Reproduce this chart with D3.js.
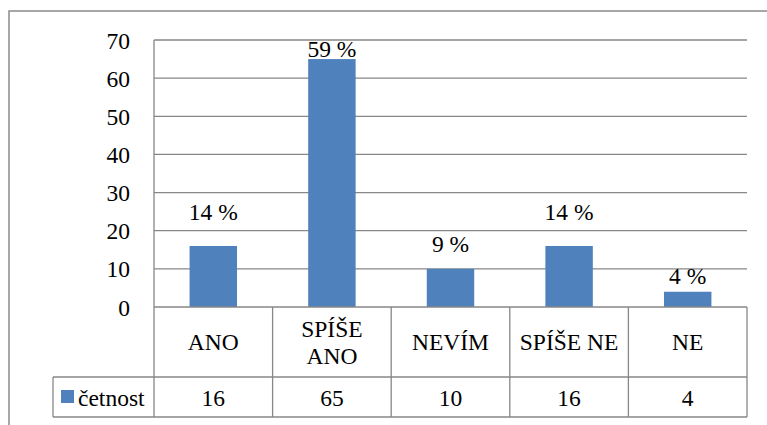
<!DOCTYPE html>
<html>
<head>
<meta charset="utf-8">
<script src="https://cdn.jsdelivr.net/npm/d3@7"></script>
<style>
  html, body { margin: 0; padding: 0; background: #fff; }
  svg { display: block; }
</style>
</head>
<body>
<svg id="chart" width="767" height="425"></svg>
<script>
// Survey answers and their counts
const categories = ["ANO", "SPÍŠE ANO", "NEVÍM", "SPÍŠE NE", "NE"];
const counts = [16, 65, 10, 16, 4];
const percentLabels = ["14 %", "59 %", "9 %", "14 %", "4 %"];
const seriesName = "četnost";
const yTicks = [0, 10, 20, 30, 40, 50, 60, 70];

const W = 767, H = 425;
const FONT = "Liberation Serif";
const frame = { left: 9, top: 11 };
const plot = { left: 154, right: 747, top: 40, bottom: 307 };
const catRowBottom = 377, valRowBottom = 417, legendLeft = 53;
const gridColor = "#878787";
const barColor = "#4F81BD";
const fontSize = 23.5;
// distance from bar top to the baseline of each percentage label
const labelLift = [26, 2, 17, 26, 8];

const svg = d3.select("#chart").attr("font-family", FONT);

// outer chart frame (right and bottom fall outside the view)
svg.append("rect")
  .attr("x", frame.left).attr("y", frame.top)
  .attr("width", W).attr("height", H)
  .attr("fill", "#fff").attr("stroke", "#8a8a8a").attr("stroke-width", 1.5);

const x = d3.scaleBand().domain(categories).range([plot.left, plot.right]).paddingInner(0).paddingOuter(0);
const y = d3.scaleLinear().domain([0, 70]).range([plot.bottom, plot.top]);

// horizontal gridlines
svg.append("g").selectAll("line").data(yTicks.filter(t => t > 0)).join("line")
  .attr("x1", plot.left).attr("x2", plot.right)
  .attr("y1", d => y(d)).attr("y2", d => y(d))
  .attr("stroke", gridColor).attr("stroke-width", 1.3);

function label(sel) {
  return sel.attr("font-family", FONT).attr("font-size", fontSize).attr("fill", "#000");
}

// y axis tick labels
const yAxis = d3.axisLeft(y).tickValues(yTicks).tickSize(0).tickPadding(24);
const yG = svg.append("g").attr("transform", `translate(${plot.left},0)`).call(yAxis);
yG.attr("font-family", FONT).attr("font-size", fontSize);
yG.select(".domain").remove();
yG.selectAll("text").call(label).attr("dy", "0.34em");

// bars
const barW = x.bandwidth() * 0.4;
svg.append("g").selectAll("rect").data(counts).join("rect")
  .attr("x", (d, i) => x(categories[i]) + (x.bandwidth() - barW) / 2)
  .attr("y", d => y(d))
  .attr("width", barW)
  .attr("height", d => y(0) - y(d))
  .attr("fill", barColor);

// percentage labels
svg.append("g").selectAll("text").data(counts).join("text")
  .attr("x", (d, i) => x(categories[i]) + x.bandwidth() / 2)
  .attr("y", (d, i) => y(d) - labelLift[i])
  .attr("text-anchor", "middle")
  .call(label)
  .text((d, i) => percentLabels[i]);

// data table lines
const tbl = svg.append("g").attr("stroke", gridColor).attr("stroke-width", 1.3);
// y axis line running down through the table
tbl.append("line").attr("x1", plot.left).attr("x2", plot.left).attr("y1", plot.top).attr("y2", valRowBottom);
tbl.append("line").attr("x1", plot.left).attr("x2", plot.right).attr("y1", plot.bottom).attr("y2", plot.bottom);
tbl.append("line").attr("x1", legendLeft).attr("x2", plot.right).attr("y1", catRowBottom).attr("y2", catRowBottom);
tbl.append("line").attr("x1", legendLeft).attr("x2", plot.right).attr("y1", valRowBottom).attr("y2", valRowBottom);
tbl.append("line").attr("x1", legendLeft).attr("x2", legendLeft).attr("y1", catRowBottom).attr("y2", valRowBottom);
tbl.selectAll("line.col").data(categories).join("line").attr("class", "col")
  .attr("x1", d => x(d) + x.bandwidth()).attr("x2", d => x(d) + x.bandwidth())
  .attr("y1", plot.bottom).attr("y2", valRowBottom);

// category labels (wrapped per word where the column is too narrow)
const catG = svg.append("g");
categories.forEach(c => {
  const cx = x(c) + x.bandwidth() / 2;
  const mid = (plot.bottom + catRowBottom) / 2;
  const lines = c === "SPÍŠE ANO" ? c.split(" ") : [c];
  const lh = 27;
  const t = catG.append("text").attr("text-anchor", "middle").call(label);
  lines.forEach((ln, k) => {
    t.append("tspan").attr("x", cx)
      .attr("y", mid + 8 + (k - (lines.length - 1) / 2) * lh)
      .text(ln);
  });
});

// value row
const valMid = (catRowBottom + valRowBottom) / 2;
svg.append("g").selectAll("text").data(counts).join("text")
  .attr("x", (d, i) => x(categories[i]) + x.bandwidth() / 2)
  .attr("y", valMid + 8.5)
  .attr("text-anchor", "middle").call(label)
  .text(d => d);

// legend key inside the table
svg.append("rect").attr("x", legendLeft + 8).attr("y", valMid - 7)
  .attr("width", 13).attr("height", 13).attr("fill", barColor);
svg.append("text").attr("x", legendLeft + 25).attr("y", valMid + 8.5)
  .call(label).text(seriesName);
</script>
</body>
</html>
